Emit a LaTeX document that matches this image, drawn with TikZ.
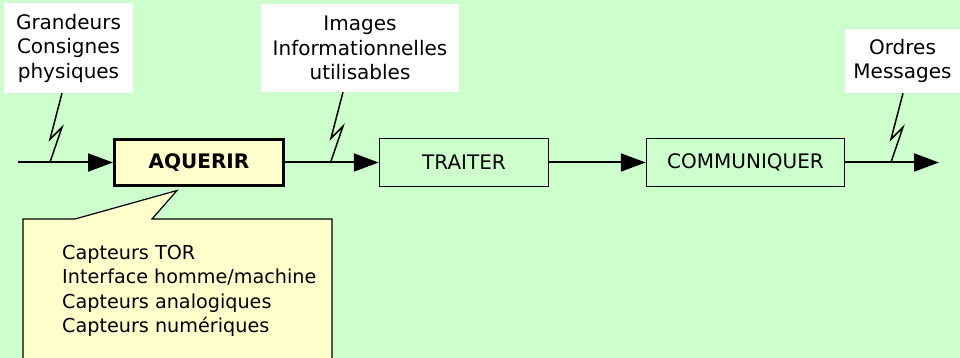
\documentclass[tikz,border=0pt]{standalone}
\usepackage{fontspec}
\setmainfont{DejaVu Sans}
\usetikzlibrary{arrows.meta}
\definecolor{fond}{HTML}{CCFFCC}
\definecolor{jaune}{HTML}{FFFFCC}

\begin{document}
\begin{tikzpicture}[x=1pt, y=-1pt, font=\fontsize{20}{24.5}\selectfont,
    bloc/.style={draw, line width=1.5pt, minimum height=48pt, inner sep=0pt},
    etiq/.style={fill=white, inner sep=0pt, align=center},
    fleche/.style={-{Triangle[length=25pt, width=18pt]}, line width=2pt},
    eclair/.style={line width=1.5pt}]
    \useasboundingbox (0,0) rectangle (960,358);
    \fill[fond] (0,0) rectangle (960,358);

    % labels of the flows
    \node[etiq, minimum width=129pt, minimum height=90pt] (grand) at (68.5,48) {Grandeurs\\Consignes\\physiques};
    \node[etiq, minimum width=198pt, minimum height=88pt] (images) at (360,48) {Images\\Informationnelles\\utilisables};
    \node[etiq, minimum width=115pt, minimum height=64pt] (ordres) at (902.5,61) {Ordres\\Messages};

    % the chain
    \node[bloc, minimum width=169pt, minimum height=46pt, line width=3pt, fill=jaune, font=\fontsize{20}{24.5}\selectfont\bfseries] (aq) at (199,162.5) {AQUERIR};
    \node[bloc, minimum width=169pt] (tr) at (464,162.5) {TRAITER};
    \node[bloc, minimum width=198pt] (com) at (745.5,162.5) {COMMUNIQUER};
    \coordinate (entree) at (18,162.5);
    \coordinate (sortie) at (939,162.5);

    \draw[fleche] (entree) -- (aq);
    \draw[fleche] (aq) -- (tr);
    \draw[fleche] (tr) -- (com);
    \draw[fleche] (com) -- (sortie);

    % lightning marks
    \draw[eclair] ([xshift=-6.5pt]grand.south) -- ++(-12,46) -- ++(12,-12) -- ++(-12,35);
    \draw[eclair] ([xshift=-17pt]images.south) -- ++(-12,46) -- ++(12,-12) -- ++(-12,35);
    \draw[eclair] ([xshift=0.5pt]ordres.south) -- ++(-12,46) -- ++(12,-12) -- ++(-12,35);

    % callout
    \coordinate (pointe) at ([xshift=-22pt, yshift=-3.5pt]aq.south);
    \filldraw[fill=jaune, line width=1.2pt] (23,362) -- (23,219) -- (75,219) -- (pointe) -- (152,219) -- (332,219) -- (332,362);
    \node[anchor=north west, align=left, inner sep=0pt, font=\fontsize{19.2}{24.5}\selectfont] (capteurs) at (62,245) {Capteurs TOR\\Interface homme/machine\\Capteurs analogiques\\Capteurs numériques};
\end{tikzpicture}
\end{document}
